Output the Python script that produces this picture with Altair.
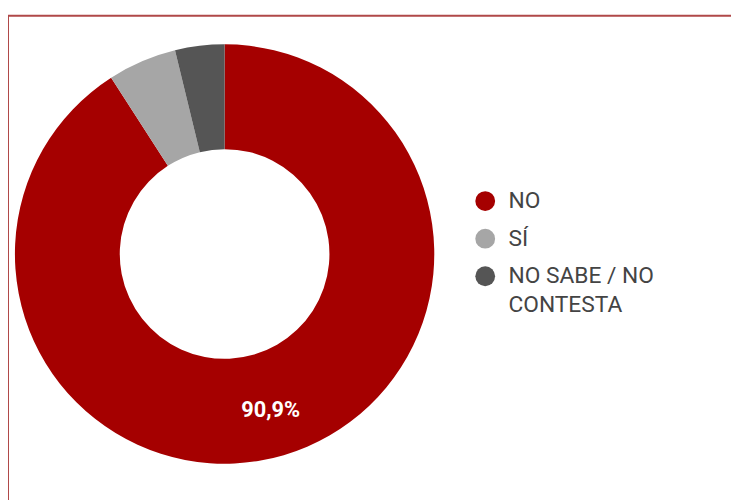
import altair as alt
import pandas as pd

categories = ["NO", "SÍ", "NO SABE / NO CONTESTA"]
values = [90.9, 5.3, 3.8]
labels = ["90,9%", "", ""]
order = [0, 1, 2]
colors = ["#a50000", "#a6a6a6", "#555555"]

df = pd.DataFrame({"cat": categories, "val": values, "label": labels, "ord": order})

CX, CY = 219, 246

base = alt.Chart(df).encode(
    theta=alt.Theta("val:Q", stack=True),
    order=alt.Order("ord:Q"),
)

arc = base.mark_arc(outerRadius=212, innerRadius=106).encode(
    x=alt.value(CX),
    y=alt.value(CY),
    color=alt.Color(
        "cat:N",
        sort=categories,
        scale=alt.Scale(domain=categories, range=colors),
        legend=alt.Legend(
            title=None,
            orient="none",
            legendX=471,
            legendY=181,
            symbolType="circle",
            symbolSize=400,
            symbolStrokeWidth=0,
            labelFont="Roboto",
            labelFontSize=23,
            labelColor="#444444",
            labelOffset=12,
            labelLimit=400,
            rowPadding=14,
            labelExpr="datum.label == 'NO SABE / NO CONTESTA' ? ['NO SABE / NO', 'CONTESTA'] : datum.label",
        ),
    ),
)

text = base.mark_text(
    radius=165, font="Roboto", fontSize=22, fontWeight="bold", color="white"
).encode(
    x=alt.value(CX),
    y=alt.value(CY),
    text="label:N",
)

border = alt.Chart(pd.DataFrame({"a": [0]})).mark_rect(
    fill=None, stroke="#b04848", strokeWidth=2
).encode(
    x=alt.value(0), x2=alt.value(760), y=alt.value(5), y2=alt.value(620)
)

chart = alt.layer(border, arc, text).properties(
    width=731, height=492, autosize=alt.AutoSizeParams(type="none"), padding=0
).configure(style={"guide-label": {"lineHeight": 29}}).configure_view(stroke=None)

chart.save("out.html", embed_options={"renderer": "svg", "actions": False})
